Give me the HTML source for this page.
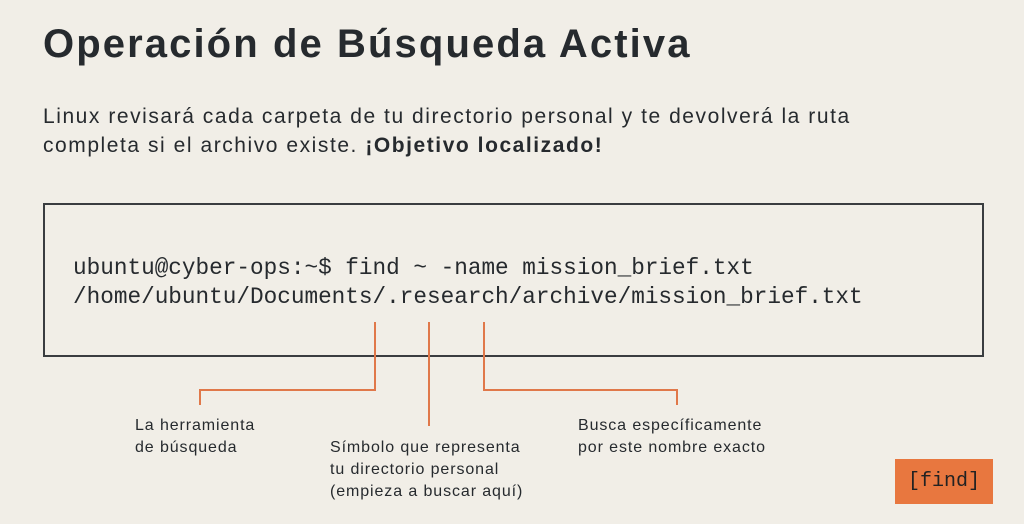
<!DOCTYPE html>
<html><head><meta charset="utf-8"><style>
body{margin:0;width:1024px;height:524px;background:#f1eee7;font-family:"Liberation Sans",sans-serif;color:#262a2e;position:relative;overflow:hidden}
.a{position:absolute}
h1{position:absolute;left:43px;top:22px;margin:0;font-size:40px;font-weight:bold;letter-spacing:2.1px;white-space:nowrap}
.p{left:43px;top:102px;font-size:21px;line-height:29px;letter-spacing:1.55px;white-space:nowrap}
.box{left:43px;top:203px;width:937px;height:150px;border:2px solid #3a3d40}
.code{left:73px;top:254px;font-family:"Liberation Mono",monospace;font-size:22.7px;line-height:29px;white-space:pre}
.l{font-size:16px;line-height:22px;letter-spacing:0.9px;white-space:nowrap}
.o{background:#e0784a}
</style></head><body>
<h1>Operación de Búsqueda Activa</h1>
<div class="a p">Linux revisará cada carpeta de tu directorio personal y te devolverá la ruta<br>completa si el archivo existe. <b>¡Objetivo localizado!</b></div>
<div class="a box"></div>
<div class="a code">ubuntu@cyber-ops:~$ find ~ -name mission_brief.txt
/home/ubuntu/Documents/.research/archive/mission_brief.txt</div>
<div class="a o" style="left:374px;top:322px;width:2px;height:68px"></div>
<div class="a o" style="left:199px;top:389px;width:177px;height:2px"></div>
<div class="a o" style="left:199px;top:389px;width:2px;height:16px"></div>
<div class="a o" style="left:428px;top:322px;width:2px;height:104px"></div>
<div class="a o" style="left:483px;top:322px;width:2px;height:68px"></div>
<div class="a o" style="left:483px;top:389px;width:195px;height:2px"></div>
<div class="a o" style="left:676px;top:389px;width:2px;height:16px"></div>
<div class="a l" style="left:135px;top:415px">La herramienta<br>de búsqueda</div>
<div class="a l" style="left:330px;top:437px">Símbolo que representa<br>tu directorio personal<br>(empieza a buscar aquí)</div>
<div class="a l" style="left:578px;top:415px">Busca específicamente<br>por este nombre exacto</div>
<div class="a" style="left:895px;top:459px;width:98px;height:45px;background:#e8773f;font-family:'Liberation Mono',monospace;font-size:20px;line-height:45px;text-align:center;color:#222">[find]</div>
</body></html>
